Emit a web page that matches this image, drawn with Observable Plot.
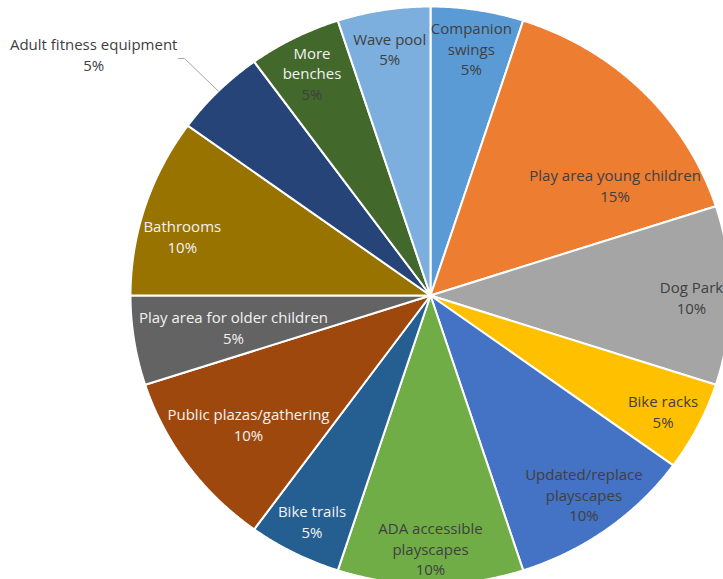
<!DOCTYPE html>
<html><head><meta charset="utf-8">
<script src="https://cdn.jsdelivr.net/npm/d3@7"></script>
<script src="https://cdn.jsdelivr.net/npm/@observablehq/plot@0.6"></script>
<style>html,body{margin:0;padding:0;background:#fff;overflow:hidden}</style>
</head><body><div id="chart"></div>
<script>
// ---- data ----
const categories = ["Companion\nswings", "Play area young children", "Dog Park", "Bike racks",
  "Updated/replace\nplayscapes", "ADA accessible\nplayscapes", "Bike trails", "Public plazas/gathering",
  "Play area for older children", "Bathrooms", "Adult fitness equipment", "More\nbenches", "Wave pool"];
const values = [5, 15, 10, 5, 10, 10, 5, 10, 5, 10, 5, 5, 5];
const colors = ["#5B9BD5", "#ED7D31", "#A5A5A5", "#FFC000", "#4472C4", "#70AD47", "#255E91",
  "#9E480E", "#636363", "#997300", "#264478", "#43682B", "#7CAFDD"];

// ---- layout ----
const W = 723, H = 579, CX = 430, CY = 295, RX = 300, RY = 289;
const FONT = "Open Sans", FS = 15, LH = 20.5, YSHIFT = 3;
const whiteName = new Set(["Bike trails", "Public plazas/gathering", "Play area for older children", "Bathrooms", "More\nbenches"]);
const whitePct = new Set(["Bike trails", "Public plazas/gathering", "Play area for older children", "Bathrooms"]);
const outside = new Set(["Adult fitness equipment"]);

const data = categories.map((c, i) => ({name: c, value: values[i], color: colors[i]}));
const arcs = d3.pie().sort(null).value(d => d.value)(data);
const total = d3.sum(values);
const pct = d3.format(".0%");

const slicePoints = arcs.flatMap((a, i) => {
  const n = Math.max(2, Math.ceil((a.endAngle - a.startAngle) / (Math.PI / 720)));
  const pts = [{k: i, x: 0, y: 0, color: a.data.color}];
  for (let j = 0; j <= n; j++) {
    const t = a.startAngle + (a.endAngle - a.startAngle) * j / n;
    pts.push({k: i, x: Math.sin(t), y: Math.cos(t), color: a.data.color});
  }
  pts.push({k: i, x: 0, y: 0, color: a.data.color});
  return pts;
});

const ctx = document.createElement("canvas").getContext("2d");
ctx.font = `${FS}px "${FONT}"`;
const toX = px => (px - CX) / RX, toY = py => (CY - py) / RY;
const halfWidthAt = py => { const d = (CY - py) / RY; return RX * Math.sqrt(Math.max(0, 1 - d * d)) - 6; };
const fits = (ax, ay, w) => { const hw = halfWidthAt(ay); return ax - w / 2 >= CX - hw && ax + w / 2 <= CX + hw; };
const angleOf = (ax, ay) => { let t = Math.atan2((ax - CX) / RX, (CY - ay) / RY); return t < 0 ? t + 2 * Math.PI : t; };

const labelRows = [], leaderPts = [];
arcs.forEach((a, i) => {
  const mid = (a.startAngle + a.endAngle) / 2;
  const lines = a.data.name.split("\n");
  const all = [...lines, pct(a.data.value / total)];
  const w = d3.max(all, s => ctx.measureText(s).width);
  let ax, ay;
  if (outside.has(a.data.name)) {
    const sx = CX + RX * Math.sin(mid), sy = CY - RY * Math.cos(mid);
    const ex = CX + 1.16 * RX * Math.sin(mid), ey = CY - 1.16 * RY * Math.cos(mid);
    const side = Math.sin(mid) < 0 ? -1 : 1;
    const lx = ex + side * 6;
    [[sx, sy], [ex, ey], [lx, ey]].forEach(([x, y]) => leaderPts.push({x: toX(x), y: toY(y)}));
    ax = lx + side * (w / 2 + 1); ay = ey - 3;
  } else {
    const r0 = 0.87;
    ax = CX + r0 * RX * Math.sin(mid); ay = CY - r0 * RY * Math.cos(mid);
    if (!fits(ax, ay, w)) {
      // first try sliding vertically toward the pie's centre line, staying inside the slice
      const step = ay < CY ? 1 : -1, m = 3 * Math.PI / 180;
      let y = ay, ok = false;
      while (Math.abs(y - CY) > 1) {
        y += step;
        const t = angleOf(ax, y);
        if (t < a.startAngle + m || t > a.endAngle - m) break;
        if (fits(ax, y, w)) { ok = true; break; }
      }
      if (ok) ay = y;
      else {
        for (let r = r0; r > 0.3; r -= 0.005) {
          ax = CX + r * RX * Math.sin(mid); ay = CY - r * RY * Math.cos(mid);
          if (fits(ax, ay, w)) break;
        }
      }
    }
    ay += YSHIFT;
  }
  all.forEach((s, j) => {
    const py = ay + (j - (all.length - 1) / 2) * LH;
    const isPct = j === all.length - 1;
    const white = isPct ? whitePct.has(a.data.name) : whiteName.has(a.data.name);
    labelRows.push({x: toX(ax), y: toY(py), text: s, color: white ? "#f2f2f2" : "#404040"});
  });
});

const chart = Plot.plot({
  width: W, height: H, margin: 0,
  x: {domain: [-CX / RX, (W - CX) / RX], range: [0, W], axis: null},
  y: {domain: [-(H - CY) / RY, CY / RY], range: [H, 0], axis: null},
  color: {type: "identity"},
  style: {fontFamily: FONT, fontSize: FS + "px", background: "#fff"},
  marks: [
    Plot.line(slicePoints, {x: "x", y: "y", z: "k", fill: "color", stroke: "#fff", strokeWidth: 2, curve: "linear"}),
    Plot.line(leaderPts, {x: "x", y: "y", stroke: "#a6a6a6", strokeWidth: 1, curve: "linear"}),
    Plot.text(labelRows, {x: "x", y: "y", text: "text", fill: "color", fontSize: FS, fontFamily: FONT})
  ]
});
document.getElementById("chart").appendChild(chart);
</script>
</body></html>
